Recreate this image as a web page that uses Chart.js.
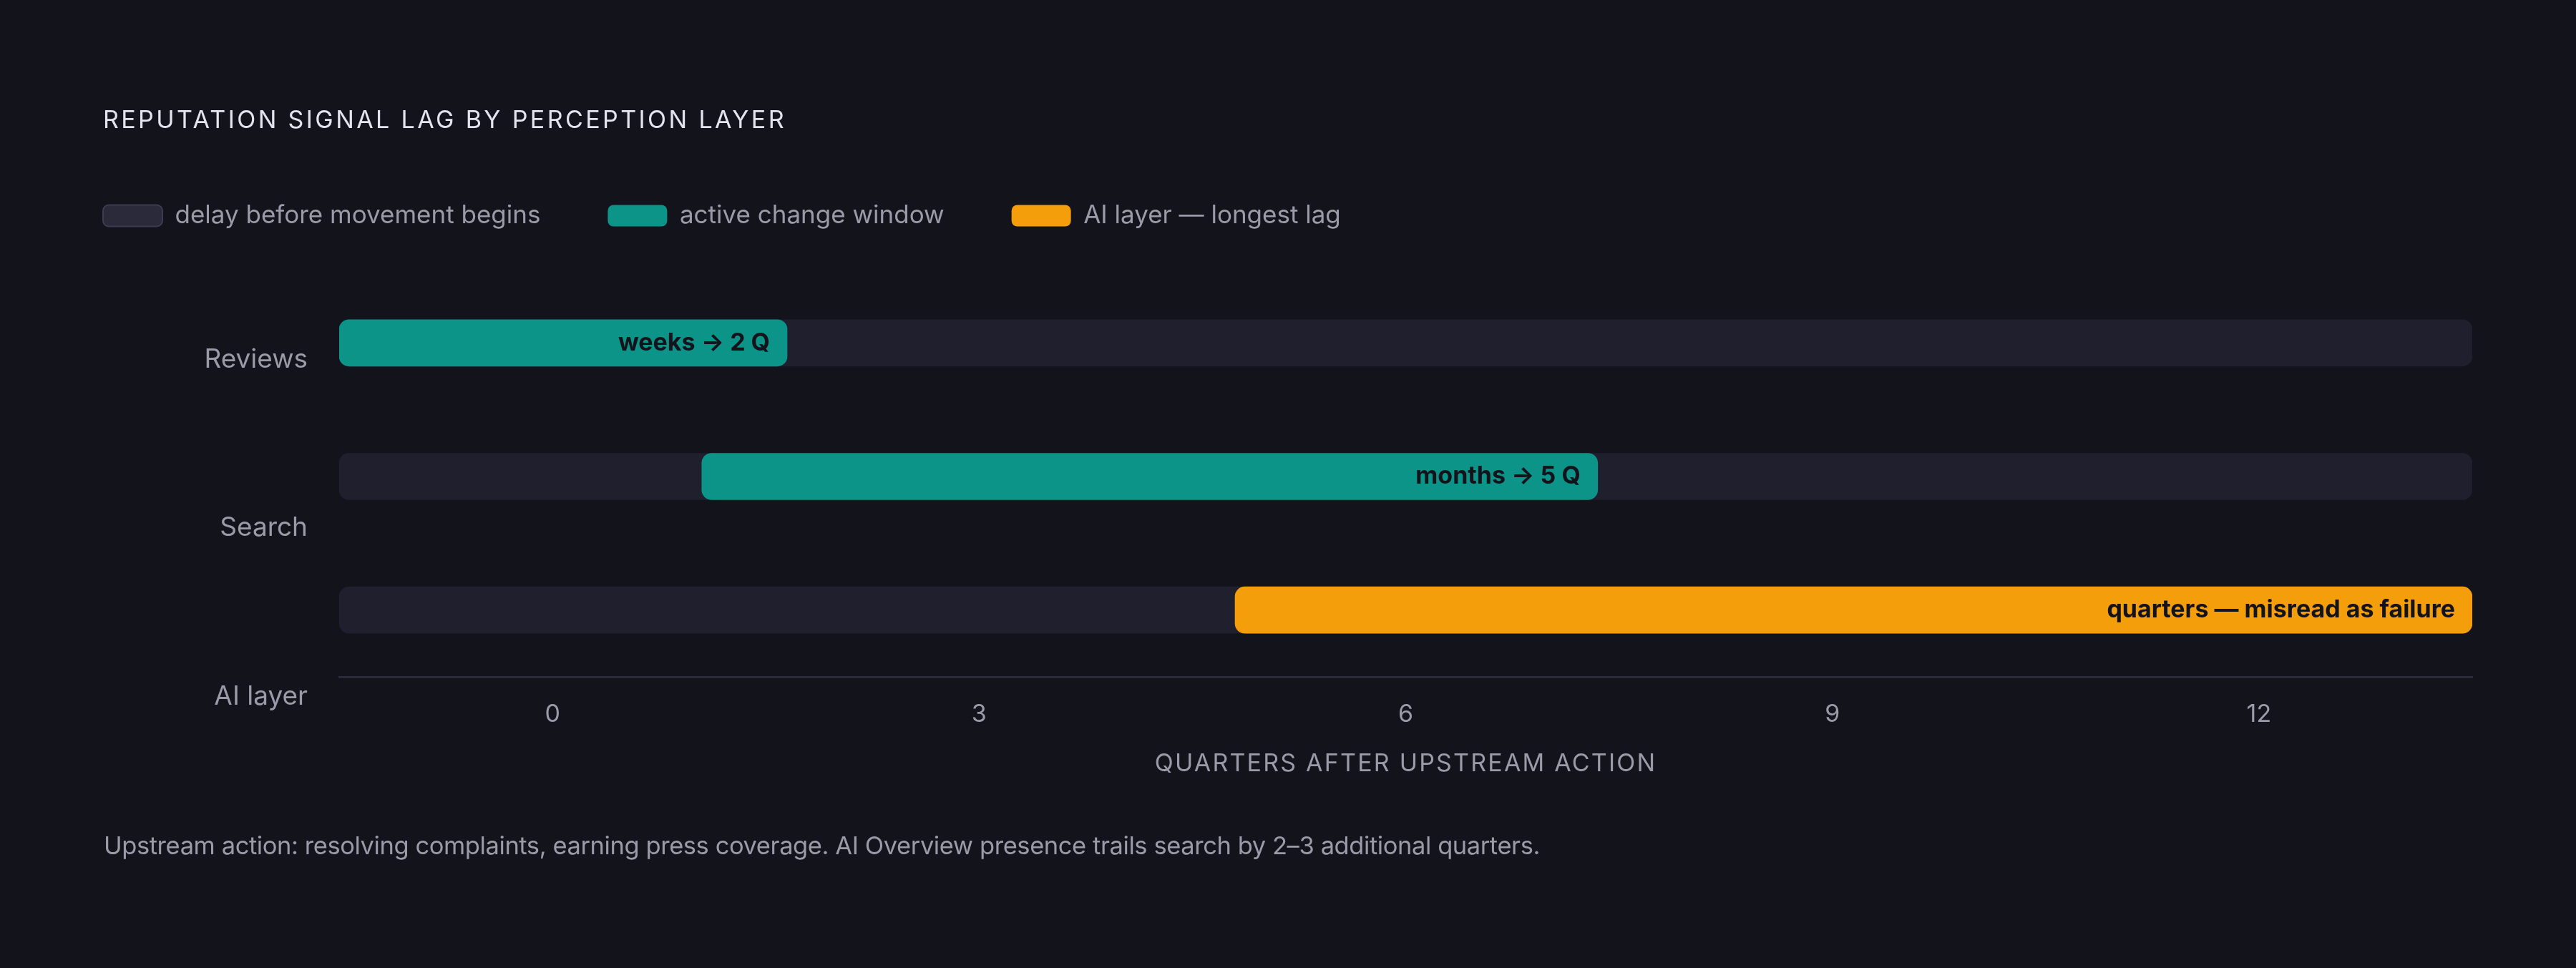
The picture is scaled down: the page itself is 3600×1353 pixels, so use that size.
<!DOCTYPE html>
<html>
<head>
<meta charset="utf-8">
<script src="https://cdn.jsdelivr.net/npm/chart.js@4.4.1/dist/chart.umd.min.js"></script>
<style>
html,body{margin:0;padding:0;background:#13131c;}
body{width:3600px;height:1353px;position:relative;overflow:hidden;font-family:Inter,"DejaVu Sans",sans-serif;}
#title{position:absolute;left:144px;top:150px;font-size:34px;line-height:34px;letter-spacing:3.4px;color:#e4e4ee;white-space:nowrap;}
#note{position:absolute;left:145px;top:1164px;font-size:34.5px;line-height:35px;letter-spacing:-0.42px;color:#9a9aa8;white-space:nowrap;}
canvas{position:absolute;left:0;top:0;}
</style>
</head>
<body>
<canvas id="c" width="3600" height="1353"></canvas>
<div id="title">REPUTATION SIGNAL LAG BY PERCEPTION LAYER</div>
<div id="note">Upstream action: resolving complaints, earning press coverage. AI Overview presence trails search by 2–3 additional quarters.</div>
<script>
// ---- data ----
const rowLabels = ['Reviews', 'Search', 'AI layer'];
const seriesNames = ['delay before movement begins', 'active change window', 'AI layer — longest lag'];
const trackSpan = [[-1.5, 13.5], [-1.5, 13.5], [-1.5, 13.5]];
const activeWindow = [[-1.5, 1.65], [1.05, 7.35], null];
const aiWindow = [null, null, [4.8, 13.5]];
const barNotes = ['weeks → 2 Q', 'months → 5 Q', 'quarters — misread as failure'];
const xTickValues = [0, 3, 6, 9, 12];
const xRange = [-1.5, 13.5];
const xTitle = 'QUARTERS AFTER UPSTREAM ACTION';

// ---- styles ----
const BG = '#13131c', TRACK = '#1f1f2e', TEAL = '#0d9488', AMBER = '#f59e0b', GRAY = '#9a9aa8', AXIS = '#2a2a3a';
Chart.defaults.font.family = 'Inter, "DejaVu Sans", sans-serif';

const notesPlugin = {
  id: 'barNotes',
  afterDatasetsDraw(chart) {
    const ctx = chart.ctx;
    ctx.save();
    ctx.font = '700 34px Inter, "DejaVu Sans", sans-serif';
    ctx.fillStyle = BG;
    ctx.textAlign = 'right';
    ctx.textBaseline = 'middle';
    [1, 2].forEach(di => {
      const meta = chart.getDatasetMeta(di);
      meta.data.forEach((el, i) => {
        if (!chart.data.datasets[di].data[i]) return;
        const right = Math.max(el.x, el.base);
        ctx.fillText(barNotes[i], right - 24, el.y);
      });
    });
    ctx.restore();
  }
};

const spacingPlugin = {
  id: 'axisTitleSpacing',
  beforeDraw(chart) {
    const s = chart.scales.x;
    if (s && !s.__ls) {
      const orig = s.drawTitle;
      s.drawTitle = function () {
        const c = this.ctx;
        const prev = c.letterSpacing;
        c.letterSpacing = '2.2px';
        orig.apply(this, arguments);
        c.letterSpacing = prev || '0px';
      };
      s.__ls = true;
    }
  }
};

new Chart(document.getElementById('c'), {
  type: 'bar',
  data: {
    labels: rowLabels,
    datasets: [
      { label: seriesNames[0], data: trackSpan, backgroundColor: TRACK, order: 3 },
      { label: seriesNames[1], data: activeWindow, backgroundColor: TEAL, order: 1 },
      { label: seriesNames[2], data: aiWindow, backgroundColor: AMBER, order: 2 }
    ]
  },
  options: {
    indexAxis: 'y',
    responsive: false,
    devicePixelRatio: 1,
    animation: false,
    layout: { padding: { left: 50, right: 145, top: 190, bottom: 247 } },
    datasets: { bar: { grouped: false, barThickness: 65, borderRadius: 14, borderSkipped: false, borderWidth: 0 } },
    plugins: {
      tooltip: { enabled: false },
      legend: {
        position: 'top',
        align: 'start',
        labels: {
          color: GRAY,
          font: { size: 35 },
          boxWidth: 83,
          boxHeight: 30,
          padding: 94,
          useBorderRadius: true,
          borderRadius: 8,
          sort: (a, b) => a.datasetIndex - b.datasetIndex,
          generateLabels(chart) {
            const items = Chart.defaults.plugins.legend.labels.generateLabels(chart);
            items.forEach(it => {
              if (it.datasetIndex === 0) { it.fillStyle = '#2a2a3a'; it.strokeStyle = '#3c3c52'; it.lineWidth = 2; }
              else { it.lineWidth = 0; }
            });
            return items;
          }
        }
      }
    },
    scales: {
      x: {
        type: 'linear',
        position: 'bottom',
        min: xRange[0],
        max: xRange[1],
        grid: { display: false, drawTicks: false },
        border: { display: true, color: AXIS, width: 3 },
        ticks: { color: GRAY, font: { size: 34 }, padding: 32 },
        afterBuildTicks(s) { s.ticks = xTickValues.map(v => ({ value: v })); },
        title: { display: true, text: xTitle, color: GRAY, font: { size: 34 }, padding: { top: 0, bottom: 18 } },
        afterFit(s) { s.height = 160; }
      },
      xTop: {
        type: 'linear',
        position: 'top',
        grid: { display: false, drawTicks: false },
        border: { display: false },
        ticks: { display: false },
        afterFit(s) { s.height = 57; }
      },
      y: { type: 'category', display: false, offset: true },
      yl: {
        type: 'linear',
        position: 'left',
        reverse: true,
        offset: false,
        min: -0.4974,
        max: 1.8836,
        grid: { display: false, drawTicks: false, offset: false },
        border: { display: false },
        afterBuildTicks(s) { s.ticks = rowLabels.map((_, i) => ({ value: i })); },
        ticks: { color: GRAY, font: { size: 37 }, padding: 44, callback: (v) => rowLabels[v] },
        afterFit(s) { s.width = 424; }
      }
    }
  },
  plugins: [notesPlugin, spacingPlugin]
});
</script>
</body>
</html>
